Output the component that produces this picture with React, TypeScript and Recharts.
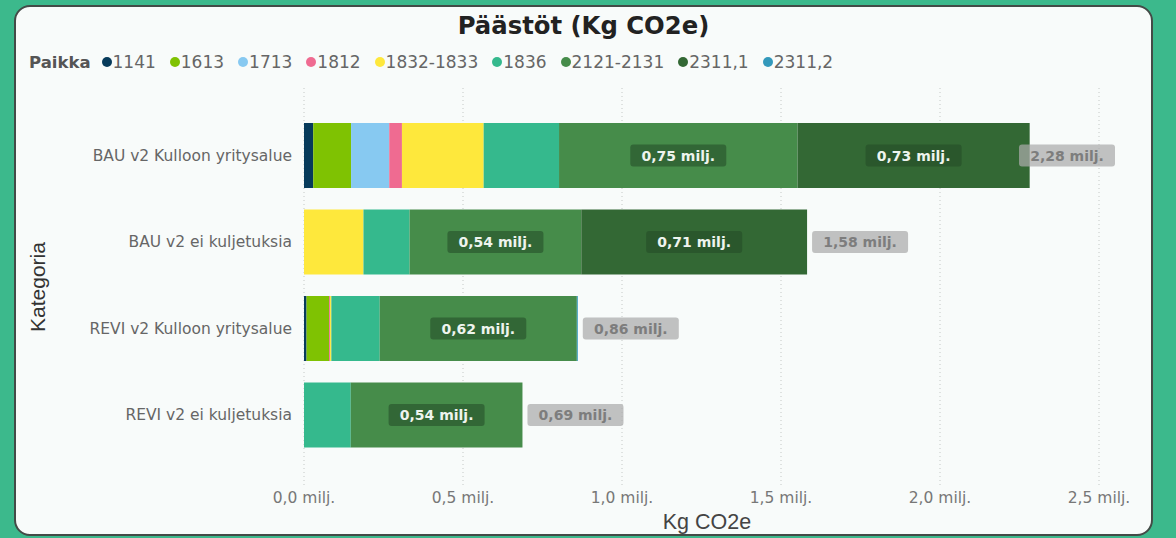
import { BarChart, Bar, XAxis, YAxis, CartesianGrid, LabelList } from 'recharts';

// Päästöt per paikka, Kg CO2e
const categories = [
    'BAU v2 Kulloon yritysalue',
    'BAU v2 ei kuljetuksia',
    'REVI v2 Kulloon yritysalue',
    'REVI v2 ei kuljetuksia',
];

const seriesNames = ['1141', '1613', '1713', '1812', '1832-1833', '1836', '2121-2131', '2311,1', '2311,2'];
const seriesColors = ['#073b5b', '#7fc202', '#87c9f1', '#ef6b91', '#fee83c', '#35b98d', '#468c4a', '#336834', '#3399bb'];

const v1141 = [29000, 0, 8000, 0];
const v1613 = [119000, 0, 71000, 0];
const v1713 = [120000, 0, 0, 0];
const v1812 = [40000, 0, 3000, 0];
const v1832 = [257000, 187000, 4000, 0];
const v1836 = [237000, 145000, 152000, 147000];
const v2121 = [750000, 540000, 620000, 540000];
const v2311a = [730000, 710000, 0, 0];
const v2311b = [0, 0, 3000, 0];

const seriesValues = [v1141, v1613, v1713, v1812, v1832, v1836, v2121, v2311a, v2311b];

const xTicks = [0, 500000, 1000000, 1500000, 2000000, 2500000];

// 1 kg invisible cap on each stack, only used to place the total label
const TOTAL_KEY = '__total';

const chartData = categories.map((name, i) => {
    const row: Record<string, any> = { name, [TOTAL_KEY]: 1 };
    seriesNames.forEach((s, j) => {
        row[s] = seriesValues[j][i];
    });
    return row;
});

const totals = categories.map((_, i) => seriesValues.reduce((sum, arr) => sum + arr[i], 0));

const milj = (v: number, digits: number) => `${(v / 1e6).toFixed(digits).replace('.', ',')} milj.`;

const FONT = "'DejaVu Sans', Verdana, sans-serif";
const BOX_W = 96;
const BOX_H = 22;

function InnerLabel(props: any) {
    const { x, y, width, height, value } = props;
    if (!value || value < 400000) return null;
    const cx = x + width / 2;
    const cy = y + height / 2;
    return (
        <g>
            <rect x={cx - BOX_W / 2} y={cy - BOX_H / 2} width={BOX_W} height={BOX_H} rx={3} fill="rgba(34,72,38,0.55)" />
            <text x={cx} y={cy} textAnchor="middle" dominantBaseline="central" fill="#eef4ee" fontSize={14} fontWeight="bold" fontFamily={FONT}>
                {milj(value, 2)}
            </text>
        </g>
    );
}

function TotalLabel(props: any) {
    const { x, y, width, height, index } = props;
    const total = totals[index];
    if (total == null) return null;
    const end = x + width;
    // keep the box inside the panel (it is pushed left onto the bar if needed)
    const bx = Math.min(end + 5, 1115 - BOX_W);
    const cy = y + height / 2;
    return (
        <g>
            <rect x={bx} y={cy - BOX_H / 2} width={BOX_W} height={BOX_H} rx={3} fill="rgba(170,170,170,0.72)" />
            <text x={bx + BOX_W / 2} y={cy} textAnchor="middle" dominantBaseline="central" fill="#7d7d7d" fontSize={14} fontWeight="bold" fontFamily={FONT}>
                {milj(total, 2)}
            </text>
        </g>
    );
}

export default function App() {
    return (
        <div style={{ position: 'absolute', left: 0, top: 0, width: 1176, height: 538, background: '#3cb98c', overflow: 'hidden' }}>
            <div
                style={{
                    position: 'absolute',
                    left: 14,
                    top: 5,
                    width: 1139,
                    height: 531,
                    boxSizing: 'border-box',
                    border: '2px solid #434b47',
                    borderRadius: 16,
                    background: '#f8fbfa',
                }}
            />
            <div
                style={{
                    position: 'absolute',
                    left: 14,
                    width: 1139,
                    top: 11,
                    textAlign: 'center',
                    fontFamily: FONT,
                    fontWeight: 'bold',
                    fontSize: 24.3,
                    color: '#222',
                }}
            >
                Päästöt (Kg CO2e)
            </div>
            <div
                style={{
                    position: 'absolute',
                    left: 29,
                    top: 52,
                    display: 'flex',
                    alignItems: 'center',
                    fontFamily: FONT,
                    fontSize: 17,
                    color: '#666',
                    whiteSpace: 'nowrap',
                }}
            >
                <span style={{ fontWeight: 'bold', color: '#555', fontSize: 16.5, marginRight: 11 }}>Paikka</span>
                {seriesNames.map((s, i) => (
                    <span key={s} style={{ display: 'flex', alignItems: 'center', marginRight: 14 }}>
                        <span style={{ width: 10, height: 10, borderRadius: '50%', background: seriesColors[i], marginRight: 1, display: 'inline-block' }} />
                        {s}
                    </span>
                ))}
            </div>
            <div
                style={{
                    position: 'absolute',
                    left: 38,
                    top: 287,
                    transform: 'translate(-50%, -50%) rotate(-90deg)',
                    fontFamily: "'Liberation Sans', Arial, sans-serif",
                    fontSize: 21,
                    color: '#333',
                    whiteSpace: 'nowrap',
                }}
            >
                Kategoria
            </div>
            <div
                style={{
                    position: 'absolute',
                    left: 707,
                    top: 522,
                    transform: 'translate(-50%, -50%)',
                    fontFamily: "'Liberation Sans', Arial, sans-serif",
                    fontSize: 21.5,
                    color: '#444',
                    whiteSpace: 'nowrap',
                }}
            >
                Kg CO2e
            </div>
            <div style={{ position: 'absolute', left: 0, top: 0 }}>
                <BarChart
                    width={1176}
                    height={538}
                    data={chartData}
                    layout="vertical"
                    margin={{ top: 88, right: 77, bottom: 18, left: 20 }}
                    style={{ fontFamily: FONT }}
                >
                    <CartesianGrid horizontal={false} stroke="#c4c8c6" strokeDasharray="1 3" />
                    <XAxis
                        type="number"
                        domain={[0, 2500000]}
                        ticks={xTicks}
                        tickFormatter={(v) => milj(v, 1)}
                        axisLine={false}
                        tickLine={false}
                        tickSize={0}
                        tickMargin={7}
                        height={35}
                        tick={{ fontSize: 15.5, fill: '#777' }}
                    />
                    <YAxis
                        type="category"
                        dataKey="name"
                        width={284}
                        axisLine={false}
                        tickLine={false}
                        tickSize={0}
                        tickMargin={12}
                        padding={{ top: 24, bottom: 27 }}
                        tick={{ fontSize: 15.5, fill: '#666' }}
                    />
                    {seriesNames.map((s, i) => (
                        <Bar key={s} dataKey={s} stackId="a" fill={seriesColors[i]} barSize={65} isAnimationActive={false}>
                            <LabelList dataKey={s} content={(p: any) => <InnerLabel {...p} />} />
                        </Bar>
                    ))}
                    <Bar dataKey={TOTAL_KEY} stackId="a" fill="none" barSize={65} isAnimationActive={false}>
                        <LabelList dataKey={TOTAL_KEY} content={(p: any) => <TotalLabel {...p} />} />
                    </Bar>
                </BarChart>
            </div>
        </div>
    );
}
